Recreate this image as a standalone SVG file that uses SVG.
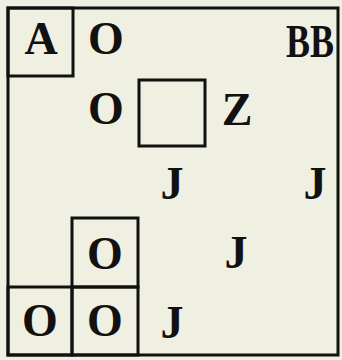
<svg xmlns="http://www.w3.org/2000/svg" width="342" height="360" viewBox="0 0 342 360">
<style>
.bg{fill:#efefe2}
.box{fill:none;stroke:#111;stroke-width:3}
.t{font-family:"Liberation Serif","Times New Roman",serif;font-weight:bold;font-size:46px;fill:#111;text-anchor:middle}
</style>
<rect class="bg" x="0" y="0" width="342" height="360"/>
<g id="frame"><rect class="box" x="8" y="8" width="330" height="347"/></g>
<g id="nodeA"><rect class="box" x="8" y="8" width="65" height="68"/><text class="t" x="41" y="54">A</text></g>
<g id="nodeO1"><text class="t" x="106" y="54">O</text></g>
<g id="nodeBB"><text class="t" transform="translate(310 57) scale(0.78 1)" x="0" y="0">BB</text></g>
<g id="nodeO2"><text class="t" x="106" y="124">O</text></g>
<g id="nodeBox"><rect class="box" x="139" y="80" width="66" height="66"/></g>
<g id="nodeZ"><text class="t" x="237" y="125">Z</text></g>
<g id="nodeJ1"><text class="t" x="172" y="199">J</text></g>
<g id="nodeJ2"><text class="t" x="315" y="199">J</text></g>
<g id="nodeO3"><rect class="box" x="72" y="218" width="66" height="69"/><text class="t" x="105" y="269">O</text></g>
<g id="nodeJ3"><text class="t" x="236" y="268">J</text></g>
<g id="nodeO4"><rect class="box" x="8" y="287" width="64" height="68"/><text class="t" x="40" y="336">O</text></g>
<g id="nodeO5"><rect class="box" x="72" y="287" width="66" height="68"/><text class="t" x="105" y="336">O</text></g>
<g id="nodeJ4"><text class="t" x="172" y="338">J</text></g>
<g id="connectors"></g>
</svg>
